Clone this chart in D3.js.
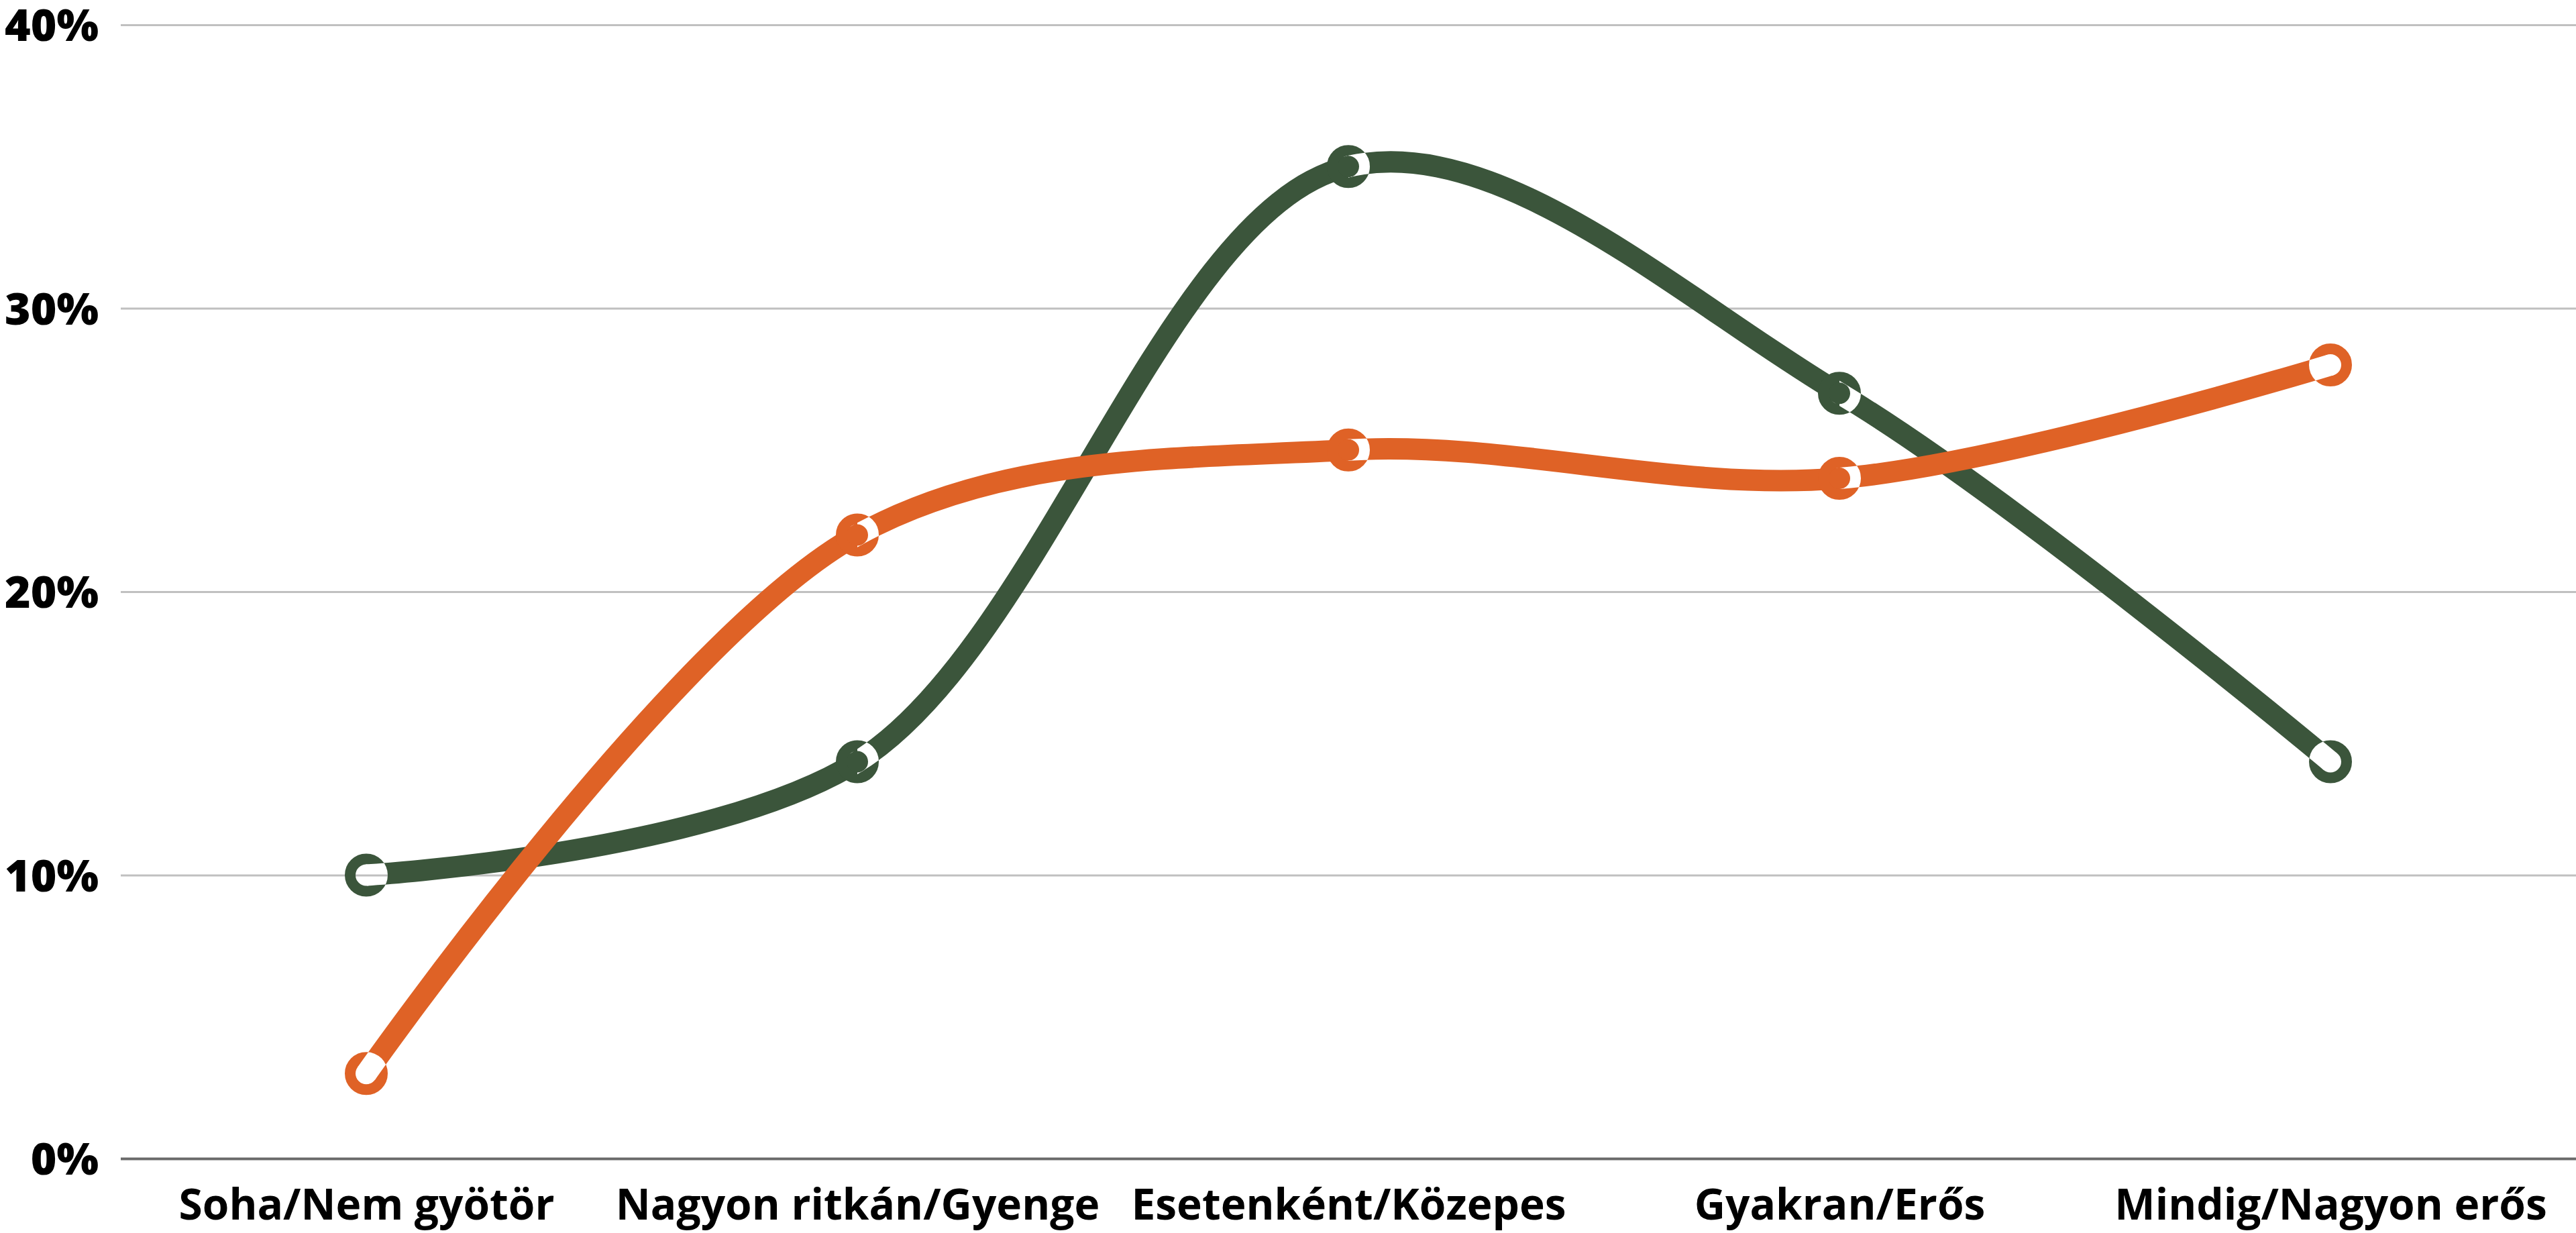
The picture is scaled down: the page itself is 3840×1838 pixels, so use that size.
<!DOCTYPE html>
<html><head><meta charset="utf-8">
<script src="https://cdn.jsdelivr.net/npm/d3@7"></script>
<style>html,body{margin:0;padding:0;background:#fff;}svg{display:block;}</style>
</head><body>
<svg id="chart" width="3840" height="1838"></svg>
<script>
const categories = ["Soha/Nem gyötör","Nagyon ritkán/Gyenge","Esetenként/Közepes","Gyakran/Erős","Mindig/Nagyon erős"];
const seriesGreen = [10,14,35,27,14];
const seriesOrange = [3,22,25,24,28];
const yTicks = [0,10,20,30,40];
const seriesList = [
  {name:"green", values: seriesGreen, color:"#3b553b"},
  {name:"orange", values: seriesOrange, color:"#df6226"}
];

const W = 3840, H = 1838;
const m = {left:180, right:0, top:37, bottom:111};
const svg = d3.select("#chart");
const x = d3.scalePoint().domain(categories).range([m.left, W]).padding(0.5);
const y = d3.scaleLinear().domain([0,40]).range([H - m.bottom, m.top]);

// gridlines + y labels
const yAxis = d3.axisLeft(y).tickValues(yTicks).tickFormat(d => d + "%").tickSize(-(W - m.left)).tickPadding(33);
const gy = svg.append("g").attr("transform", `translate(${m.left},0)`).call(yAxis);
gy.select(".domain").remove();
gy.selectAll(".tick line").attr("stroke", d => d === 0 ? "#6a6a6a" : "#c0c0c0").attr("stroke-width", d => d === 0 ? 4 : 3);
gy.selectAll(".tick text").attr("font-family","'Open Sans', sans-serif").attr("font-weight",800)
  .attr("font-size",66).attr("fill","#000").attr("x", 147 - m.left).attr("dy","0.36em");

// x axis labels
const xAxis = d3.axisBottom(x).tickSize(0).tickPadding(0);
const gx = svg.append("g").attr("transform", `translate(0,${H - m.bottom})`).call(xAxis);
gx.select(".domain").remove();
gx.selectAll(".tick text").attr("font-family","'Open Sans', sans-serif").attr("font-weight",700)
  .attr("font-size",64).attr("fill","#000").attr("dy", null).attr("y", 91);

const line = d3.line().x((d,i) => x(categories[i])).y(d => y(d)).curve(d3.curveCatmullRom.alpha(0.5));
const defs = svg.append("defs");
const R = 24, RW = 16, LW = 32, RO = R + RW/2;

seriesList.forEach(s => {
  const d = line(s.values);
  const pts = s.values.map((v,i) => ({cx: x(categories[i]), cy: y(v), end: i === 0 || i === s.values.length - 1}));
  const mids = pts.filter(p => !p.end), ends = pts.filter(p => p.end);

  // clip: right halves of middle markers
  const cpR = defs.append("clipPath").attr("id", "cpr-" + s.name);
  cpR.selectAll("rect").data(mids).join("rect")
    .attr("x", p => p.cx).attr("y", p => p.cy - RO - 2).attr("width", RO + 2).attr("height", 2*RO + 4);
  // clip: right halves of middle markers + whole end markers
  const cpA = defs.append("clipPath").attr("id", "cpa-" + s.name);
  cpA.selectAll("rect").data(pts).join("rect")
    .attr("x", p => p.end ? p.cx - RO - 2 : p.cx).attr("y", p => p.cy - RO - 2)
    .attr("width", p => p.end ? 2*RO + 4 : RO + 2).attr("height", 2*RO + 4);

  // mask for the line
  const ml = defs.append("mask").attr("id", "ml-" + s.name).attr("maskUnits","userSpaceOnUse")
    .attr("x",0).attr("y",0).attr("width",W).attr("height",H);
  ml.append("rect").attr("width",W).attr("height",H).attr("fill","#fff");
  ml.selectAll("circle.e").data(ends).join("circle").attr("class","e")
    .attr("cx",p=>p.cx).attr("cy",p=>p.cy).attr("r", RO).attr("fill","#000");
  ml.append("g").attr("clip-path", `url(#cpr-${s.name})`).selectAll("circle").data(mids).join("circle")
    .attr("cx",p=>p.cx).attr("cy",p=>p.cy).attr("r", R).attr("fill","none")
    .attr("stroke","#000").attr("stroke-width", RW);

  // mask for the rings
  const mr = defs.append("mask").attr("id", "mr-" + s.name).attr("maskUnits","userSpaceOnUse")
    .attr("x",0).attr("y",0).attr("width",W).attr("height",H);
  mr.append("rect").attr("width",W).attr("height",H).attr("fill","#fff");
  mr.append("g").attr("clip-path", `url(#cpa-${s.name})`).append("path").attr("d", d)
    .attr("fill","none").attr("stroke","#000").attr("stroke-width",LW);

  const g = svg.append("g");
  g.append("path").attr("d", d).attr("fill","none").attr("stroke", s.color).attr("stroke-width", LW)
    .attr("mask", `url(#ml-${s.name})`);
  g.append("g").attr("mask", `url(#mr-${s.name})`).selectAll("circle").data(pts).join("circle")
    .attr("cx",p=>p.cx).attr("cy",p=>p.cy).attr("r",R).attr("fill","none")
    .attr("stroke", s.color).attr("stroke-width", RW);
});
</script>
</body></html>
